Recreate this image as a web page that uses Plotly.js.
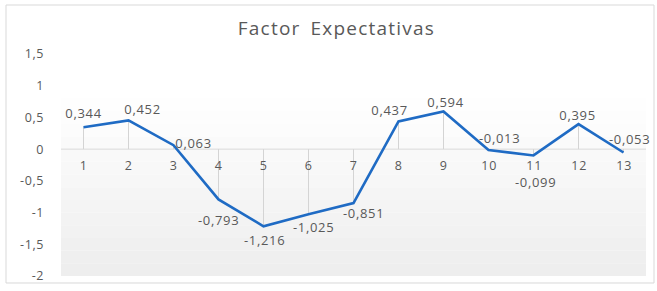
<!DOCTYPE html>
<html><head><meta charset="utf-8">
<script src="https://cdn.plot.ly/plotly-3.0.1.min.js"></script>
<style>
html,body{margin:0;padding:0;background:#fff;}
#chart{width:657px;height:291px;}
#chart .gtitle{letter-spacing:1.2px;word-spacing:4px;}
#chart .annotation-text{letter-spacing:0.7px;}
#chart .ytick text{letter-spacing:0.6px;}
</style>
</head><body><div id="chart"></div>
<script>
const categories = [1,2,3,4,5,6,7,8,9,10,11,12,13];
const values = [0.344,0.452,0.063,-0.793,-1.216,-1.025,-0.851,0.437,0.594,-0.013,-0.099,0.395,-0.053];
const yTickVals = [1.5,1,0.5,0,-0.5,-1,-1.5,-2];
const yTickText = ['1,5','1','0,5','0','-0,5','-1','-1,5','-2'];
const title = 'Factor Expectativas';

// label offsets (style, pixels)
const labelDx = [0,14,20,0,1,5,10,-9,2,11,2,-1,6];
const labelDy = [14,11,2,-21,-14,-13,-10,11,9,12,-27,9,14];

const fmt = v => v.toFixed(3).replace('.', ',');
const grey = '#595959';
const font = 'Open Sans, sans-serif';

// drop lines
const dx = [], dy = [];
categories.forEach((c,i)=>{ dx.push(c,c,null); dy.push(0,values[i],null); });

const traces = [
  {x: dx, y: dy, mode:'lines', line:{color:'#d4d4d4', width:1}, hoverinfo:'skip', showlegend:false},
  {x: categories, y: values, mode:'lines', line:{color:'#1f6bc4', width:2.6}, showlegend:false}
];

const annotations = [];
categories.forEach((c,i)=>{
  annotations.push({x:c, y:values[i], text:fmt(values[i]), showarrow:false,
    xanchor:'center', yanchor:'middle', xshift:labelDx[i], yshift:labelDy[i],
    font:{family:font, size:13, color:grey}});
  annotations.push({x:c, y:0, text:String(c), showarrow:false, xanchor:'center', yanchor:'middle',
    yshift:-16, font:{family:font, size:12.5, color:grey}});
});

const shapes = [];
const nb = 14;
for (let k=0;k<nb;k++){
  const t = k/(nb-1);
  const g = Math.round(238 + (254-238)*t);
  shapes.push({type:'rect', xref:'paper', yref:'paper', x0:0, x1:1, y0:0.8*k/nb, y1:0.8*(k+1)/nb,
    fillcolor:`rgb(${g},${g},${g})`, line:{width:0}, layer:'below'});
}
shapes.push({type:'line', xref:'paper', yref:'y', x0:0, x1:1, y0:0, y1:0, line:{color:'#d9d9d9', width:1}, layer:'below'});
shapes.push({type:'rect', xref:'paper', yref:'paper', x0:-0.094, x1:1.0137, y0:-0.0315, y1:1.2207,
  line:{color:'#d9d9d9', width:1}, fillcolor:'rgba(0,0,0,0)'});

const layout = {
  width:657, height:291,
  margin:{l:61, r:11, t:54, b:15},
  paper_bgcolor:'#ffffff', plot_bgcolor:'rgba(0,0,0,0)',
  separators:',.',
  title:{text:title, x:0.512, xanchor:'center', y:1-28/291, yanchor:'middle', yref:'container',
    font:{family:font, size:19, color:grey}},
  xaxis:{range:[0.5,13.5], showgrid:false, zeroline:false, showticklabels:false, showline:false, fixedrange:true},
  yaxis:{range:[-2,1.5], tickvals:yTickVals, ticktext:yTickText, showgrid:false, zeroline:false, showline:false,
    ticklabelstandoff:16, tickfont:{family:font, size:12.5, color:grey}},
  showlegend:false,
  annotations:annotations,
  shapes:shapes
};
Plotly.newPlot('chart', traces, layout, {displayModeBar:false, staticPlot:true});
</script></body></html>
